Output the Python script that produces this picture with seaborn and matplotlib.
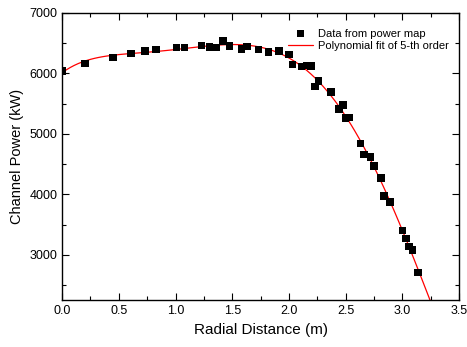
import numpy as np
import pandas as pd
import seaborn as sns
import matplotlib.pyplot as plt
from matplotlib.ticker import MultipleLocator

# data
radial = [0.00, 0.20, 0.45, 0.61, 0.73, 0.83, 1.01, 1.08, 1.23, 1.30, 1.36,
          1.42, 1.475, 1.58, 1.63, 1.73, 1.82, 1.91, 2.00, 2.03, 2.11, 2.16,
          2.195, 2.23, 2.26, 2.37, 2.44, 2.475, 2.50, 2.53, 2.63, 2.66, 2.72,
          2.75, 2.81, 2.84, 2.89, 3.00, 3.03, 3.06, 3.09, 3.14]
power = [6040, 6160, 6260, 6330, 6370, 6395, 6430, 6430, 6460, 6440, 6430,
         6530, 6450, 6405, 6445, 6395, 6355, 6370, 6310, 6145, 6115, 6130,
         6120, 5780, 5870, 5690, 5410, 5480, 5260, 5270, 4840, 4660, 4620,
         4470, 4265, 3970, 3875, 3400, 3270, 3135, 3080, 2710]

df = pd.DataFrame({"r": radial, "p": power})

sns.set_style("ticks")
plt.rcParams['font.family'] = ['Liberation Sans', 'DejaVu Sans']
plt.rcParams.update({"text.color": "black", "axes.labelcolor": "black",
                     "xtick.color": "black", "ytick.color": "black",
                     "axes.edgecolor": "black"})

fig = plt.figure(figsize=(4.67, 3.47), dpi=100)
ax = fig.add_axes([0.133, 0.135, 0.85, 0.828])
ax.set_xlim(0, 3.5)
ax.set_ylim(2250, 7000)

# 5th-order polynomial fit, extended across the axis
sns.regplot(data=df, x="r", y="p", order=5, ci=None, truncate=False,
            scatter=False, ax=ax, line_kws=dict(color="red", lw=0.9))
fit_line = ax.lines[-1]
pts = ax.scatter(df["r"], df["p"], marker="s", s=30, color="black",
                 edgecolor="none", zorder=3)

ax.set_xlim(0, 3.5)
ax.set_ylim(2250, 7000)
ax.xaxis.set_major_locator(MultipleLocator(0.5))
ax.xaxis.set_minor_locator(MultipleLocator(0.25))
ax.yaxis.set_major_locator(MultipleLocator(1000))
ax.yaxis.set_minor_locator(MultipleLocator(500))
ax.tick_params(which="both", direction="in", top=True, right=True, labelsize=9, width=0.8)
ax.tick_params(which="major", length=5)
ax.tick_params(which="minor", length=3)
for s in ax.spines.values():
    s.set_linewidth(1.0)
    s.set_visible(True)

ax.set_xlabel("Radial Distance (m)", fontsize=11)
ax.set_ylabel("Channel Power (kW)", fontsize=10.5)

ax.legend([pts, fit_line], ["Data from power map", "Polynomial fit of 5-th order"],
          loc="upper right", frameon=False, fontsize=8, handlelength=2.2,
          handletextpad=0.5, labelspacing=0.2, bbox_to_anchor=(1.0, 0.98))

fig.savefig("out.png", dpi=100)
